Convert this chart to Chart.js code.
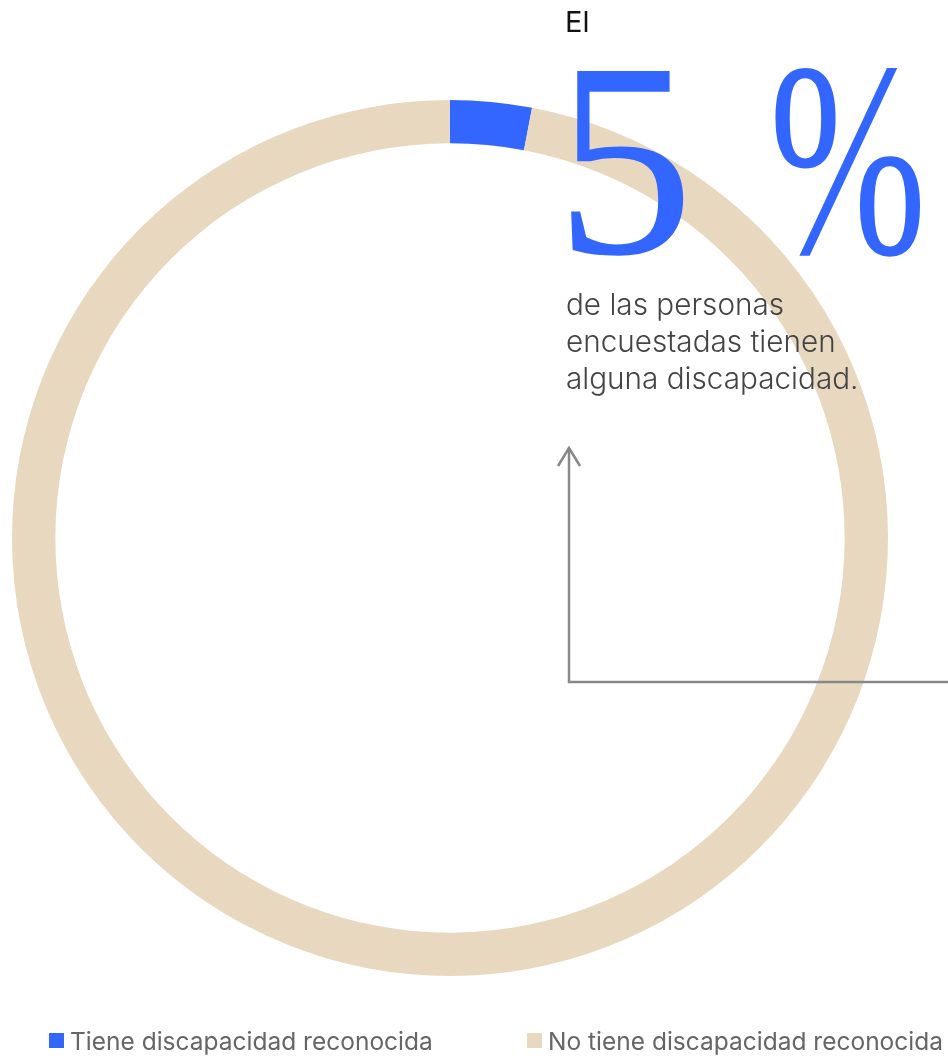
<!DOCTYPE html>
<html>
<head>
<meta charset="utf-8">
<script src="https://cdn.jsdelivr.net/npm/chart.js@4.4.1/dist/chart.umd.min.js"></script>
<style>
body{margin:0;background:#fff;}
#wrap{position:relative;width:948px;height:1058px;overflow:hidden;}
#chartBox{position:absolute;left:0;top:0;width:948px;height:1058px;}
.txt{position:absolute;white-space:nowrap;}
#el{left:565px;top:7px;font:400 29px Inter,sans-serif;line-height:29px;color:#111;}
.big{font-family:"Liberation Serif","DejaVu Serif",Inter,sans-serif;font-size:278px;font-weight:200;line-height:278px;color:#3366ff;transform-origin:left top;}
#big5{left:555px;top:20px;transform:scaleX(1.0);}
#bigPct{left:769px;top:20px;transform:scaleX(0.68);}
#body{left:566px;top:286px;font:300 29.7px Inter,sans-serif;line-height:37px;color:#444;}
#arrow{position:absolute;left:0;top:0;}
.leg{position:absolute;top:1027px;font:400 24.5px Inter,sans-serif;line-height:28px;color:#666;}
.leg span.box{position:absolute;left:0;top:6px;width:15px;height:15px;}
.leg span.lab{position:absolute;left:21px;top:0;white-space:nowrap;}
</style>
</head>
<body>
<div id="wrap">
<div id="chartBox"><canvas id="donut"></canvas></div>
<svg id="arrow" width="948" height="1058">
<polyline points="948,682 569,682 569,449" fill="none" stroke="#888" stroke-width="2.5"/>
<polyline points="558,466 569,448 580,466" fill="none" stroke="#888" stroke-width="2.5"/>
</svg>
<div class="txt" id="el">El</div>
<div class="txt big" id="big5">5</div>
<div class="txt big" id="bigPct">%</div>
<div class="txt" id="body">de las personas<br>encuestadas tienen<br>alguna discapacidad.</div>
<div id="legend"></div>
</div>
<script>

/* ================================
   DATA
================================ */

const labels = ["Tiene discapacidad reconocida","No tiene discapacidad reconocida"]
const values = [3,97]
const colors = ["#3366ff","#e8d8c0"]

/* ================================
   DOUGHNUT
================================ */

const donut = new Chart(
document.getElementById("donut"),
{
type:"doughnut",
data:{
labels:labels,
datasets:[{
data:values,
backgroundColor:colors,
borderWidth:0,
hoverOffset:0
}]
},
options:{
responsive:true,
maintainAspectRatio:false,
animation:false,
cutout:"90.1%",
layout:{padding:{left:12,right:60,top:100,bottom:82}},
plugins:{
legend:{display:false},
tooltip:{enabled:false}
}
}
})

/* ================================
   LEGEND
================================ */

const legendLeft = [49,527]
const legend = document.getElementById("legend")

donut.data.labels.forEach((l,i)=>{
const item = document.createElement("div")
item.className = "leg"
item.style.left = legendLeft[i] + "px"
item.innerHTML =
'<span class="box" style="background:' + donut.data.datasets[0].backgroundColor[i] + '"></span>' +
'<span class="lab">' + l + '</span>'
legend.appendChild(item)
})

</script>
</body>
</html>
